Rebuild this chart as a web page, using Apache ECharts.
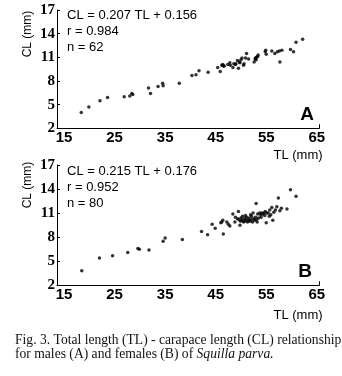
<!DOCTYPE html>
<html>
<head>
<meta charset="utf-8">
<script src="https://cdn.jsdelivr.net/npm/echarts@6/dist/echarts.min.js"></script>
<style>
  html, body { margin: 0; padding: 0; background: #fff; }
  #chart { width: 342px; height: 376px; }
</style>
</head>
<body>
<div id="chart"></div>
<script>
// TL (mm), CL (mm)
const malesA = [
  [18.4,4.0],[19.9,4.7],[22.1,5.5],[23.6,5.9],[26.9,6.0],[28.0,6.1],[28.4,6.4],[28.6,6.3],[31.7,7.1],[32.1,6.4],
  [33.6,7.3],[34.5,7.7],[34.6,7.4],[37.8,7.7],[40.3,8.7],[41.1,8.8],[41.7,9.3],[43.5,9.1],[45.4,9.7],[45.9,9.2],
  [46.2,10.0],[46.5,9.9],[46.7,9.9],[47.4,10.1],[47.8,10.3],[47.9,10.0],[48.4,9.7],[48.6,10.2],[48.9,10.1],[49.0,10.2],
  [49.3,10.6],[49.5,9.6],[49.7,10.4],[49.8,10.3],[50.0,10.7],[50.2,10.9],[50.5,10.0],[50.6,10.2],[51.1,11.5],[51.5,10.8],
  [52.6,10.4],[52.8,10.8],[52.9,10.9],[53.1,11.0],[53.3,11.1],[53.4,11.3],[54.8,11.7],[55.0,11.4],[56.1,11.8],[56.7,11.5],
  [57.2,11.7],[57.6,11.8],[57.7,10.4],[58.1,11.9],[59.8,12.0],[60.4,11.7],[60.9,12.9],[62.2,13.3],
  [53.0,10.7],[54.9,11.9],[46.4,10.1],[50.9,10.9]
];
const femalesB = [
  [18.5,3.8],[22.0,5.4],[24.6,5.7],[27.6,6.1],[29.6,6.6],[29.9,6.5],[31.8,6.4],[34.6,7.5],[35.0,7.9],[38.4,7.7],
  [42.2,8.7],[43.4,8.3],[44.3,9.6],[44.9,9.1],[46.0,9.8],[46.2,9.9],[46.4,10.1],[46.5,8.4],[47.2,9.9],[47.5,9.6],
  [47.8,9.4],[48.4,10.9],[48.8,9.9],[49.5,11.2],[49.8,9.5],
  [49.6,10.2],[49.9,10.0],[50.0,10.4],[50.2,10.1],[50.3,10.6],[50.5,9.9],[50.6,10.3],[50.8,10.0],[51.0,10.2],[51.1,10.5],
  [51.3,9.9],[51.5,10.1],[51.6,10.4],[51.8,10.0],[52.0,10.2],[52.1,10.6],[52.3,9.9],[52.5,10.3],[52.7,10.1],[52.9,10.5],
  [53.0,12.2],[53.1,10.2],[53.3,10.9],[53.5,10.4],[53.7,11.0],[53.9,10.8],[54.1,11.0],[54.3,10.9],[54.5,11.0],[54.7,10.7],
  [54.8,11.2],[55.0,9.8],[55.1,11.0],[55.4,11.0],[55.6,10.6],[55.7,11.4],[55.9,10.8],[56.3,10.1],[56.5,11.1],[56.8,11.4],
  [57.1,11.8],[57.4,12.9],[57.7,11.3],[58.0,11.6],[59.1,11.5],[59.8,13.9],[60.9,13.1],
  [48.9,10.5],[49.3,10.3],[50.9,10.7],[51.9,10.8],[52.4,11.0],[53.2,9.9],[54.0,10.5],[56.1,11.7]
];
const tlTicks = [15, 25, 35, 45, 55, 65];
const clTicks = [2, 5, 8, 11, 14, 17];
const statsA = ['CL = 0.207 TL + 0.156', 'r = 0.984', 'n = 62'];
const statsB = ['CL = 0.215 TL + 0.176', 'r = 0.952', 'n = 80'];

const chart = echarts.init(document.getElementById('chart'), null, { renderer: 'canvas' });

const sans = "'Liberation Sans', Arial, sans-serif";
const serif = "'Liberation Serif', 'Times New Roman', serif";

function xAxisFor(i) {
  return {
    type: 'value', gridIndex: i, min: 13.6, max: 65.5,
    splitLine: { show: false },
    axisLine: { lineStyle: { color: '#000', width: 1 } },
    axisTick: { inside: true, length: 4, customValues: [65.5], lineStyle: { color: '#000' } },
    axisLabel: {
      customValues: tlTicks, margin: 2, color: '#000',
      fontFamily: "'Liberation Sans Narrow', " + sans, fontWeight: 'bold', fontSize: 15
    }
  };
}
function yAxisFor(i) {
  return {
    type: 'value', gridIndex: i, min: 2, max: 17,
    splitLine: { show: false },
    axisLine: { lineStyle: { color: '#000', width: 1 } },
    axisTick: { inside: true, length: 3, customValues: clTicks, lineStyle: { color: '#000' } },
    axisLabel: {
      customValues: clTicks, margin: 2, color: '#000',
      fontFamily: serif, fontWeight: 'bold', fontSize: 15
    }
  };
}

function statText(lines, top) {
  return lines.map((t, k) => ({
    type: 'text', x: 67, y: top + k * 16,
    style: { text: t, font: '13px ' + sans, fill: '#000', textVerticalAlign: 'middle' }
  }));
}

const option = {
  backgroundColor: '#fff',
  animation: false,
  grid: [
    { left: 57, top: 10, width: 262.3, height: 118.3 },
    { left: 57, top: 165, width: 262.3, height: 120.3 }
  ],
  xAxis: [xAxisFor(0), xAxisFor(1)],
  yAxis: [yAxisFor(0), yAxisFor(1)],
  series: [
    { type: 'scatter', xAxisIndex: 0, yAxisIndex: 0, data: malesA,
      symbolSize: 3.5, itemStyle: { color: '#000' } },
    { type: 'scatter', xAxisIndex: 1, yAxisIndex: 1, data: femalesB,
      symbolSize: 3.5, itemStyle: { color: '#000' } }
  ],
  graphic: [
    ...statText(statsA, 15),
    ...statText(statsB, 171),
    { type: 'text', x: 28, y: 34, rotation: Math.PI / 2,
      style: { text: 'CL (mm)', font: '12px ' + sans, fill: '#000', textAlign: 'center', textVerticalAlign: 'middle' } },
    { type: 'text', x: 28, y: 185, rotation: Math.PI / 2,
      style: { text: 'CL (mm)', font: '12px ' + sans, fill: '#000', textAlign: 'center', textVerticalAlign: 'middle' } },
    { type: 'text', x: 298, y: 155,
      style: { text: 'TL (mm)', font: '13px ' + sans, fill: '#000', textAlign: 'center', textVerticalAlign: 'middle' } },
    { type: 'text', x: 298, y: 315,
      style: { text: 'TL (mm)', font: '13px ' + sans, fill: '#000', textAlign: 'center', textVerticalAlign: 'middle' } },
    { type: 'text', x: 307, y: 115,
      style: { text: 'A', font: 'bold 19px ' + sans, fill: '#000', textAlign: 'center', textVerticalAlign: 'middle' } },
    { type: 'text', x: 305, y: 272,
      style: { text: 'B', font: 'bold 19px ' + sans, fill: '#000', textAlign: 'center', textVerticalAlign: 'middle' } },
    // figure caption
    { type: 'text', x: 15, y: 340,
      style: { text: 'Fig. 3. Total length (TL) - carapace length (CL) relationship',
        font: '13.6px ' + serif, fill: '#111', textVerticalAlign: 'middle' } },
    { type: 'text', x: 15, y: 354,
      style: { text: 'for males (A) and females (B) of {i|Squilla parva.}',
        font: '13.6px ' + serif, fill: '#111', textVerticalAlign: 'middle',
        rich: { i: { fontStyle: 'italic', fontFamily: serif, fontSize: 13.6, color: '#111' } } } }
  ]
};
chart.setOption(option);
</script>
</body>
</html>
